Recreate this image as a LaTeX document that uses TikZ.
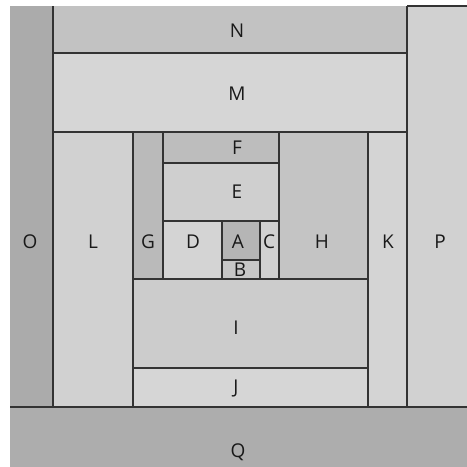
\documentclass[tikz,border=0pt]{standalone}
\usepackage{fontspec}
\setmainfont{Open Sans}
\usepackage{tikz}

\begin{document}
\begin{tikzpicture}[x=1pt,y=-1pt,
    patch/.style={draw=black!80,line width=1.3pt},
    tag/.style={font=\fontsize{19}{21}\selectfont,text=black!90,inner sep=0pt}]
  \useasboundingbox (0,0) rectangle (467,467);
  % outer frame
  \fill[black!33] (10,6) rectangle (53,407);
  \fill[black!18] (407,6) rectangle (467,407);
  \fill[black!24] (53,6) rectangle (407,53);
  \fill[black!32] (10,407) rectangle (467,467);
  \draw[patch] (53,6) -- (53,53);
  \draw[patch] (407,6) -- (407,53);
  \draw[patch] (407,6) -- (467,6);
  \draw[patch] (10,407) -- (467,407);
  % inner patches
  \foreach \xa/\ya/\xb/\yb/\sh in {53/53/407/132/16, 53/132/133/407/18,
      368/132/407/407/17, 133/368/368/407/16, 133/279/368/368/20,
      133/132/163/279/27, 279/132/368/279/23, 163/132/279/163/26,
      163/163/279/221/19, 163/221/222/279/17, 222/221/260/260/29,
      222/260/260/279/22, 260/221/279/279/18}
    \draw[patch,fill=black!\sh] (\xa,\ya) rectangle (\xb,\yb);
  % labels
  \foreach \nm/\lx/\ly in {N/237/31, M/237/94, F/237/148, E/237/192,
      O/30/242, L/93/242, G/148/242, D/193/242, A/238/242, C/269/242,
      H/322/242, K/388/242, P/440/242, B/240/270, I/236/328, J/236/388,
      Q/238/452}
    \node[tag] (lab\nm) at (\lx,\ly) {\nm};
\end{tikzpicture}
\end{document}
